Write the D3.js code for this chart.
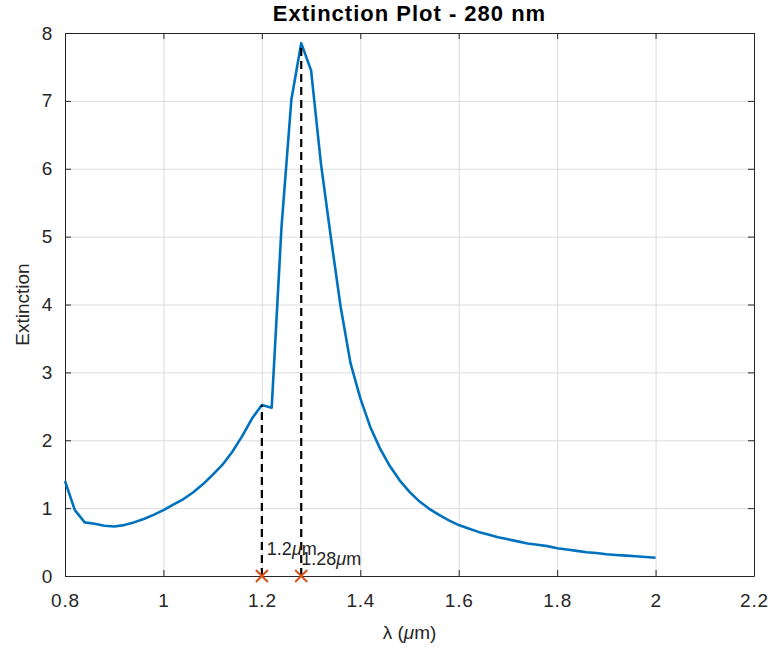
<!DOCTYPE html>
<html>
<head>
<meta charset="utf-8">
<script src="https://cdn.jsdelivr.net/npm/d3@7"></script>
<style>
  body { margin: 0; background: #fff; }
  text { font-family: "Liberation Sans", Arial, sans-serif; fill: #262626; }
</style>
</head>
<body>
<svg width="773" height="648"></svg>
<script>
// wavelength (um) and extinction
var lambda = [0.80, 0.82, 0.84, 0.86, 0.88, 0.90, 0.92, 0.94, 0.96, 0.98,
    1.00, 1.02, 1.04, 1.06, 1.08, 1.10, 1.12, 1.14, 1.16, 1.18,
    1.20, 1.22, 1.24, 1.26, 1.28, 1.30, 1.32, 1.34, 1.36, 1.38,
    1.40, 1.42, 1.44, 1.46, 1.48, 1.50, 1.52, 1.54, 1.56, 1.58,
    1.60, 1.62, 1.64, 1.66, 1.68, 1.70, 1.72, 1.74, 1.76, 1.78,
    1.80, 1.82, 1.84, 1.86, 1.88, 1.90, 1.92, 1.94, 1.96, 1.98, 2.00];
var extinction = [1.40, 0.97, 0.79, 0.77, 0.74, 0.73, 0.75, 0.79, 0.84, 0.90,
    0.97, 1.05, 1.13, 1.23, 1.35, 1.49, 1.64, 1.83, 2.06, 2.32,
    2.52, 2.48, 5.15, 7.02, 7.85, 7.45, 6.08, 5.00, 3.97, 3.14,
    2.62, 2.20, 1.88, 1.62, 1.41, 1.24, 1.10, 0.99, 0.90, 0.82,
    0.75, 0.70, 0.65, 0.61, 0.57, 0.54, 0.51, 0.48, 0.46, 0.44,
    0.41, 0.39, 0.37, 0.35, 0.34, 0.32, 0.31, 0.30, 0.29, 0.28, 0.27];

// marked peaks
var peakX = [1.20, 1.28];
var peakY = [2.52, 7.85];
var peakLabelY = [0.40, 0.25];
var peakLabel = [" 1.2", "1.28"];

var xTicks = [0.8, 1, 1.2, 1.4, 1.6, 1.8, 2, 2.2];
var yTicks = [0, 1, 2, 3, 4, 5, 6, 7, 8];

var svg = d3.select("svg"),
    width = +svg.attr("width"),
    height = +svg.attr("height"),
    margin = {top: 33, right: 19, bottom: 72, left: 65},
    w = width - margin.left - margin.right,
    h = height - margin.top - margin.bottom,
    g = svg.append("g").attr("transform", "translate(" + margin.left + "," + margin.top + ")");

var x = d3.scaleLinear().domain([0.8, 2.2]).range([0, w]);
var y = d3.scaleLinear().domain([0, 8]).range([h, 0]);

// grid
g.append("g")
    .attr("class", "grid")
    .attr("transform", "translate(0," + h + ")")
    .call(d3.axisBottom(x).tickValues(xTicks).tickSize(-h).tickFormat(""));
g.append("g")
    .attr("class", "grid")
    .call(d3.axisLeft(y).tickValues(yTicks).tickSize(-w).tickFormat(""));
g.selectAll(".grid .domain").remove();

// axes with inward ticks, box on
g.append("g")
    .attr("transform", "translate(0," + h + ")")
    .call(d3.axisBottom(x).tickValues(xTicks).tickSizeInner(-6).tickSizeOuter(0).tickPadding(18)
        .tickFormat(d3.format("")));
g.append("g")
    .call(d3.axisLeft(y).tickValues(yTicks).tickSizeInner(-6).tickSizeOuter(0).tickPadding(12));
g.append("g")
    .call(d3.axisTop(x).tickValues(xTicks).tickSizeInner(-6).tickSizeOuter(0).tickFormat(""));
g.append("g")
    .attr("transform", "translate(" + w + ",0)")
    .call(d3.axisRight(y).tickValues(yTicks).tickSizeInner(-6).tickSizeOuter(0).tickFormat(""));

g.selectAll(".domain, .tick line").style("stroke", "#262626");
g.selectAll(".grid line").style("stroke", "#dcdcdc").style("stroke-width", 1);
g.selectAll(".tick text")
    .style("font-size", "19px")
    .style("letter-spacing", "0.8px")
    .style("fill", "#262626")
    .style("font-family", "'Liberation Sans', Arial, sans-serif");

// extinction curve
var pts = lambda.map(function (d, i) { return [d, extinction[i]]; });
g.append("path")
    .datum(pts)
    .attr("fill", "none")
    .attr("stroke", "#0072BD")
    .attr("stroke-width", 2.6)
    .attr("stroke-linejoin", "round")
    .attr("d", d3.line()
        .x(function (d) { return x(d[0]); })
        .y(function (d) { return y(d[1]); }));

// dashed drop lines from the peaks
g.selectAll(".drop")
    .data(peakX)
    .enter().append("line")
    .attr("class", "drop")
    .attr("x1", function (d) { return x(d); })
    .attr("x2", function (d) { return x(d); })
    .attr("y1", y(0))
    .attr("y2", function (d, i) { return y(peakY[i]); })
    .attr("stroke", "#000")
    .attr("stroke-width", 2.2)
    .attr("stroke-dasharray", "8,5");

// x markers on the axis
var mk = g.selectAll(".mk")
    .data(peakX)
    .enter().append("g")
    .attr("class", "mk")
    .attr("transform", function (d) { return "translate(" + x(d) + "," + y(0) + ")"; });
mk.append("path")
    .attr("d", "M-6,-6L6,6M-6,6L6,-6")
    .attr("stroke", "#D95319")
    .attr("stroke-width", 2);

// labels
var lab = g.selectAll(".lab")
    .data(peakX)
    .enter().append("text")
    .attr("class", "lab")
    .attr("x", function (d) { return x(d); })
    .attr("y", function (d, i) { return y(peakLabelY[i]); })
    .attr("dy", "0.35em")
    .style("font-size", "18px")
    .style("white-space", "pre")
    .style("fill", "#262626");
lab.append("tspan").text(function (d, i) { return peakLabel[i]; });
lab.append("tspan").style("font-style", "italic").text("\u03bc");
lab.append("tspan").text("m");

// title and axis labels
svg.append("text")
    .attr("x", margin.left + w / 2)
    .attr("y", 21)
    .attr("text-anchor", "middle")
    .style("font-size", "22px")
    .style("letter-spacing", "1px")
    .style("font-weight", "bold")
    .style("fill", "#000")
    .text("Extinction Plot - 280 nm");

var xl = svg.append("text")
    .attr("x", margin.left + w / 2)
    .attr("y", 639)
    .attr("text-anchor", "middle")
    .style("font-size", "19px");
xl.append("tspan").text("\u03bb (");
xl.append("tspan").style("font-style", "italic").text("\u03bc");
xl.append("tspan").text("m)");

svg.append("text")
    .attr("transform", "translate(29," + (margin.top + h / 2) + ") rotate(-90)")
    .attr("text-anchor", "middle")
    .style("font-size", "19px")
    .text("Extinction");
</script>
</body>
</html>
